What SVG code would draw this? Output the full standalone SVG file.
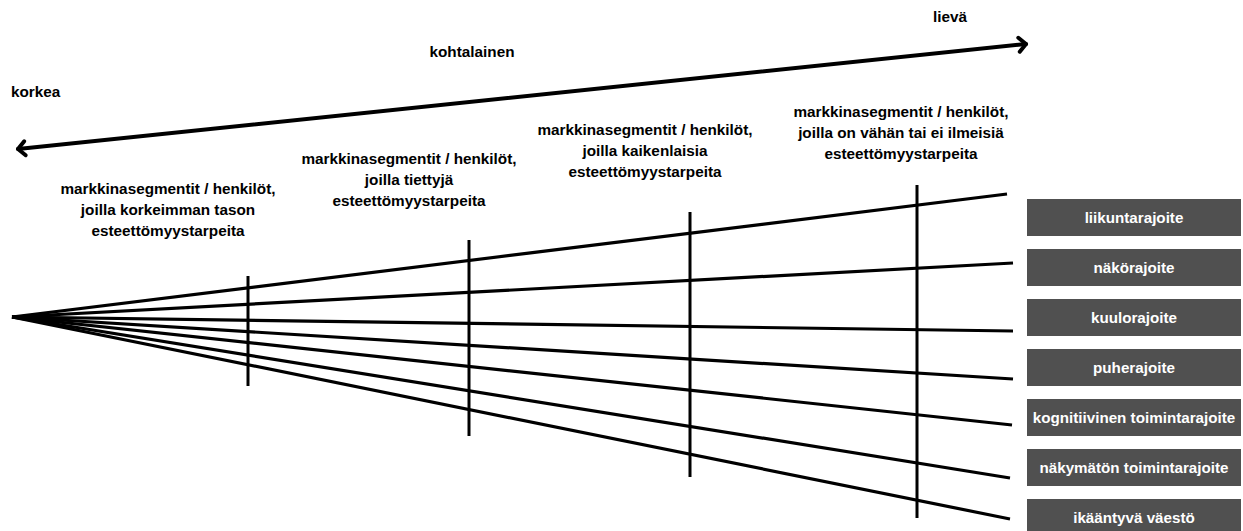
<svg xmlns="http://www.w3.org/2000/svg" width="1243" height="531" viewBox="0 0 1243 531">
<style>
  .lbl{font-family:"Liberation Sans",Arial,sans-serif;font-weight:bold;font-size:15.3px;fill:#000}
  .c{text-anchor:middle}
  .box{fill:#505050}
  .bt{font-family:"Liberation Sans",Arial,sans-serif;font-weight:bold;font-size:15.2px;fill:#fff;text-anchor:middle}
  .fan{stroke:#000;stroke-width:3.2;fill:none;stroke-linecap:butt}
  .v{stroke:#000;stroke-width:3;fill:none}
  .arr{stroke:#000;stroke-width:4;fill:none;stroke-linecap:round}
</style>
<defs>
  <marker id="head" markerUnits="userSpaceOnUse" markerWidth="20" markerHeight="20" refX="0" refY="0" viewBox="-12 -10 16 20" orient="auto-start-reverse">
    <path d="M -7 -7 L 0 0 L -7 7" fill="none" stroke="#000" stroke-width="4" stroke-linecap="round" stroke-linejoin="round"/>
  </marker>
</defs>

<g id="scale-arrow">
  <line class="arr" x1="18" y1="149" x2="1026" y2="44" marker-start="url(#head)" marker-end="url(#head)"/>
  <text class="lbl" x="11" y="97">korkea</text>
  <text class="lbl c" x="472" y="57">kohtalainen</text>
  <text class="lbl c" x="950" y="22">lievä</text>
</g>

<g id="connectors">
  <line class="fan" x1="12" y1="317" x2="1007" y2="194"/>
  <line class="fan" x1="12" y1="317" x2="1013" y2="263"/>
  <line class="fan" x1="12" y1="317" x2="1013" y2="331"/>
  <line class="fan" x1="12" y1="317" x2="1013" y2="379"/>
  <line class="fan" x1="12" y1="317" x2="1012" y2="425"/>
  <line class="fan" x1="12" y1="317" x2="1010" y2="478"/>
  <line class="fan" x1="12" y1="317" x2="1010" y2="519"/>
  <line class="v" x1="248" y1="276" x2="248" y2="386"/>
  <line class="v" x1="469" y1="240" x2="469" y2="436"/>
  <line class="v" x1="690" y1="212" x2="690" y2="477"/>
  <line class="v" x1="917" y1="185" x2="917" y2="518"/>
</g>

<g id="segment-1">
  <text class="lbl c" x="168" y="194">markkinasegmentit / henkilöt,</text>
  <text class="lbl c" x="168" y="215">joilla korkeimman tason</text>
  <text class="lbl c" x="168" y="236">esteettömyystarpeita</text>
</g>
<g id="segment-2">
  <text class="lbl c" x="409" y="164">markkinasegmentit / henkilöt,</text>
  <text class="lbl c" x="409" y="185">joilla tiettyjä</text>
  <text class="lbl c" x="409" y="206">esteettömyystarpeita</text>
</g>
<g id="segment-3">
  <text class="lbl c" x="645" y="135">markkinasegmentit / henkilöt,</text>
  <text class="lbl c" x="645" y="156">joilla kaikenlaisia</text>
  <text class="lbl c" x="645" y="177">esteettömyystarpeita</text>
</g>
<g id="segment-4">
  <text class="lbl c" x="901" y="117">markkinasegmentit / henkilöt,</text>
  <text class="lbl c" x="901" y="138">joilla on vähän tai ei ilmeisiä</text>
  <text class="lbl c" x="901" y="159">esteettömyystarpeita</text>
</g>

<g id="box-liikuntarajoite"><rect class="box" x="1027" y="199" width="214" height="37"/><text class="bt" x="1134" y="223">liikuntarajoite</text></g>
<g id="box-nakorajoite"><rect class="box" x="1027" y="249" width="214" height="37"/><text class="bt" x="1134" y="273">näkörajoite</text></g>
<g id="box-kuulorajoite"><rect class="box" x="1027" y="299" width="214" height="37"/><text class="bt" x="1134" y="323">kuulorajoite</text></g>
<g id="box-puherajoite"><rect class="box" x="1027" y="349" width="214" height="37"/><text class="bt" x="1134" y="373">puherajoite</text></g>
<g id="box-kognitiivinen"><rect class="box" x="1027" y="399" width="214" height="37"/><text class="bt" x="1134" y="423">kognitiivinen toimintarajoite</text></g>
<g id="box-nakymaton"><rect class="box" x="1027" y="449" width="214" height="37"/><text class="bt" x="1134" y="473">näkymätön toimintarajoite</text></g>
<g id="box-ikaantyva"><rect class="box" x="1027" y="499" width="214" height="37"/><text class="bt" x="1134" y="523">ikääntyvä väestö</text></g>
</svg>
